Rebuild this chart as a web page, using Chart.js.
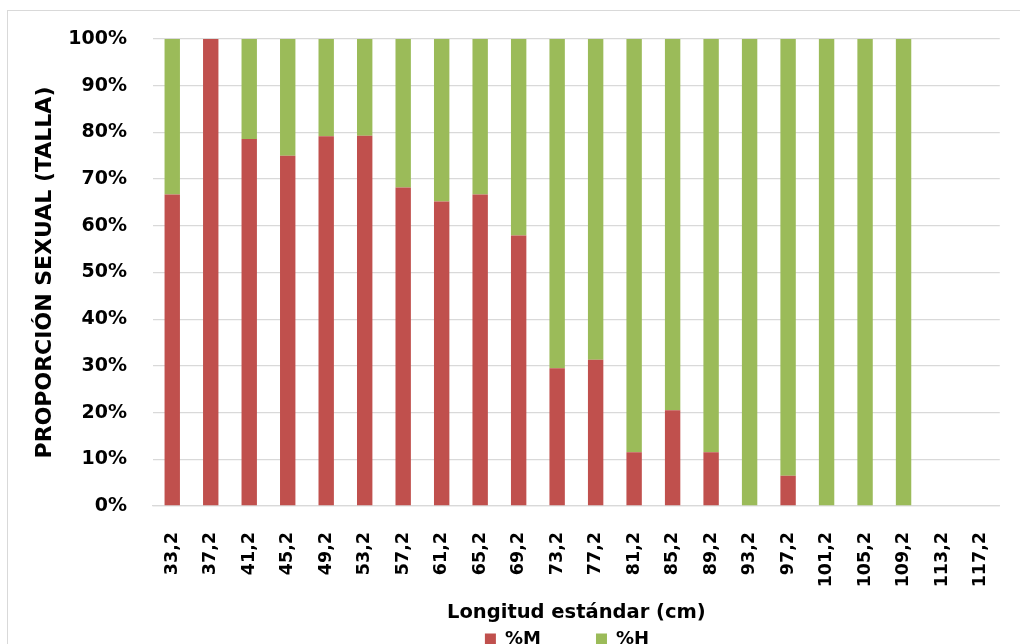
<!DOCTYPE html>
<html>
<head>
<meta charset="utf-8">
<script src="https://cdn.jsdelivr.net/npm/chart.js@4/dist/chart.umd.min.js"></script>
<style>
  html, body { margin: 0; padding: 0; background: #fff; overflow: hidden; width: 1020px; height: 644px; }
  #frame { position: absolute; left: 7px; top: 10px; width: 1100px; height: 1000px; border: 1px solid #d9d9d9; }
  #chart { position: absolute; left: 0; top: 0; }
</style>
</head>
<body>
<div id="frame"></div>
<canvas id="chart" width="1020" height="658"></canvas>
<script>
// Categories (longitud estándar, cm)
const tallas = ['33,2', '37,2', '41,2', '45,2', '49,2', '53,2', '57,2', '61,2', '65,2', '69,2', '73,2',
                '77,2', '81,2', '85,2', '89,2', '93,2', '97,2', '101,2', '105,2', '109,2', '113,2', '117,2'];
// % machos
const pctM = [66.7, 100, 78.6, 75, 79.2, 79.3, 68.2, 65.2, 66.7, 57.9, 29.5,
              31.3, 11.5, 20.5, 11.5, 0, 6.5, 0, 0, 0, null, null];
// % hembras
const pctH = [33.3, 0, 21.4, 25, 20.8, 20.7, 31.8, 34.8, 33.3, 42.1, 70.5,
              68.7, 88.5, 79.5, 88.5, 100, 93.5, 100, 100, 100, null, null];
const yTicks = [0, 10, 20, 30, 40, 50, 60, 70, 80, 90, 100];

const boldFont = (size) => ({ family: 'DejaVu Sans', weight: 'bold', size: size });

const ctx = document.getElementById('chart');
new Chart(ctx, {
    type: 'bar',
    data: {
        labels: tallas,
        datasets: [{
            // trailing spaces widen the gap between legend items
            label: '%M        ',
            data: pctM,
            backgroundColor: '#C0504D',
            barPercentage: 0.4,
            categoryPercentage: 1
        }, {
            label: '%H   ',
            data: pctH,
            backgroundColor: '#9BBB59',
            barPercentage: 0.4,
            categoryPercentage: 1
        }]
    },
    options: {
        responsive: false,
        animation: false,
        devicePixelRatio: 1,
        layout: { padding: { left: 0, top: 39, right: 20, bottom: 0 } },
        plugins: {
            tooltip: { enabled: false },
            legend: {
                position: 'bottom',
                fullSize: false,
                labels: {
                    color: '#000',
                    font: boldFont(18),
                    boxWidth: 11,
                    boxHeight: 11,
                    padding: 5
                }
            }
        },
        scales: {
            x: {
                stacked: true,
                grid: { display: false },
                border: { display: true, color: '#d9d9d9', width: 1.3 },
                ticks: {
                    color: '#000',
                    font: boldFont(17.5),
                    autoSkip: false,
                    minRotation: 90,
                    maxRotation: 90,
                    padding: 18
                },
                title: {
                    display: true,
                    text: 'Longitud estándar (cm)',
                    color: '#000',
                    font: boldFont(19.5),
                    padding: { top: 0, bottom: 0 }
                },
                afterFit: (scale) => { scale.height = 119; }
            },
            y: {
                stacked: true,
                min: 0,
                max: 100,
                grid: { color: '#d9d9d9', lineWidth: 1.3, drawTicks: false },
                border: { display: false },
                afterBuildTicks: (scale) => { scale.ticks = yTicks.map(v => ({ value: v })); },
                ticks: {
                    color: '#000',
                    font: boldFont(19),
                    padding: 26,
                    callback: (v) => v + '%'
                },
                title: {
                    display: true,
                    text: 'PROPORCIÓN SEXUAL (TALLA)',
                    color: '#000',
                    font: boldFont(22),
                    padding: { top: 32, bottom: 0 }
                },
                afterFit: (scale) => { scale.width = 153; }
            }
        }
    }
});
</script>
</body>
</html>
